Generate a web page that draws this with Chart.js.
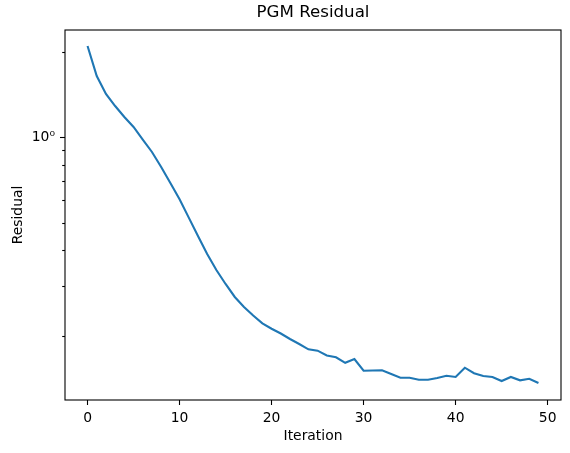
<!DOCTYPE html>
<html>
<head>
<meta charset="utf-8">
<script src="https://cdn.jsdelivr.net/npm/chart.js@4/dist/chart.umd.min.js"></script>
<style>
  html, body { margin: 0; padding: 0; background: #fff; }
  canvas { display: block; }
</style>
</head>
<body>
<canvas id="residual-chart" width="570" height="453"></canvas>
<script>
  // PGM residual per iteration
  var iterations = [];
  for (var i = 0; i < 50; i++) iterations.push(i);

  var residuals = [
    2.094, 1.643, 1.420, 1.288, 1.179, 1.087, 0.982, 0.888, 0.786, 0.691,
    0.606, 0.522, 0.450, 0.389, 0.3415, 0.305, 0.2745, 0.2531, 0.2362, 0.2218,
    0.2123, 0.2042, 0.1953, 0.1876, 0.1797, 0.1777, 0.1709, 0.1684, 0.1611, 0.1661,
    0.1511, 0.1514, 0.1516, 0.1471, 0.1428, 0.1428, 0.1405, 0.1405, 0.1424, 0.1451,
    0.1436, 0.1548, 0.1480, 0.1447, 0.1436, 0.1390, 0.1436, 0.1398, 0.1416, 0.1368
  ];

  var xTicks = [0, 10, 20, 30, 40, 50];
  var yTicks = [0.2, 0.3, 0.4, 0.5, 0.6, 0.7, 0.8, 0.9, 1, 2];
  var yMajor = [1];

  var FONT = "'DejaVu Sans', sans-serif";

  // full box + short minor ticks like matplotlib
  var axesBox = {
    id: 'axesBox',
    afterDraw: function(chart) {
      var ctx = chart.ctx, a = chart.chartArea, y = chart.scales.y;
      ctx.save();
      ctx.strokeStyle = '#000';
      ctx.lineWidth = 1.1;
      ctx.strokeRect(a.left, a.top, a.right - a.left, a.bottom - a.top);
      yTicks.forEach(function(v) {
        if (yMajor.indexOf(v) >= 0) return;
        var py = Math.round(y.getPixelForValue(v)) + 0.5;
        ctx.beginPath();
        ctx.moveTo(a.left, py);
        ctx.lineTo(a.left - 2.8, py);
        ctx.stroke();
      });
      ctx.restore();
    }
  };

  var chartEl = document.getElementById('residual-chart');
  var residualChart = new Chart(chartEl, {
    type: 'line',
    data: {
      labels: iterations,
      datasets: [
        {
          label: 'Residual',
          data: residuals.map(function(v, k) { return {x: iterations[k], y: v}; }),
          borderColor: '#1f77b4',
          borderWidth: 2.1,
          pointRadius: 0,
          tension: 0,
          fill: false
        }
      ]
    },
    options: {
      responsive: false,
      animation: false,
      layout: { padding: { top: 0, right: 9, left: 0, bottom: 0 } },
      plugins: {
        legend: { display: false },
        tooltip: { enabled: false },
        title: {
          display: true,
          text: 'PGM Residual',
          fullSize: false,
          color: '#000',
          font: { family: FONT, size: 16.67, weight: 'normal', lineHeight: 1.2 },
          padding: { top: 3, bottom: 7 }
        }
      },
      scales: {
        x: {
          type: 'linear',
          min: -2.45,
          max: 51.45,
          afterBuildTicks: function(s) { s.ticks = xTicks.map(function(v) { return {value: v}; }); },
          afterFit: function(s) { s.height = 53; },
          grid: { drawOnChartArea: false, tickLength: 5, tickColor: '#000', tickWidth: 1.1 },
          border: { display: false },
          ticks: { color: '#000', padding: 5, maxRotation: 0, font: { family: FONT, size: 13.89 } },
          title: {
            display: true, text: 'Iteration', color: '#000',
            font: { family: FONT, size: 13.89 }, padding: { top: 0, bottom: 8 }
          }
        },
        y: {
          type: 'logarithmic',
          min: 0.1192,
          max: 2.384,
          afterBuildTicks: function(s) { s.ticks = yTicks.map(function(v) { return {value: v}; }); },
          afterFit: function(s) { s.width = 65; },
          grid: {
            drawOnChartArea: false, tickLength: 5, tickWidth: 1.1,
            tickColor: function(c) { return yMajor.indexOf(c.tick.value) >= 0 ? '#000' : 'rgba(0,0,0,0)'; }
          },
          border: { display: false },
          ticks: {
            color: '#000', padding: 5, autoSkip: false,
            font: { family: FONT, size: 13.89 },
            callback: function(v) { return v === 1 ? '10\u2070' : ''; }
          },
          title: {
            display: true, text: 'Residual', color: '#000',
            font: { family: FONT, size: 13.89 }, padding: { top: 10, bottom: 0 }
          }
        }
      }
    },
    plugins: [axesBox]
  });
</script>
</body>
</html>
